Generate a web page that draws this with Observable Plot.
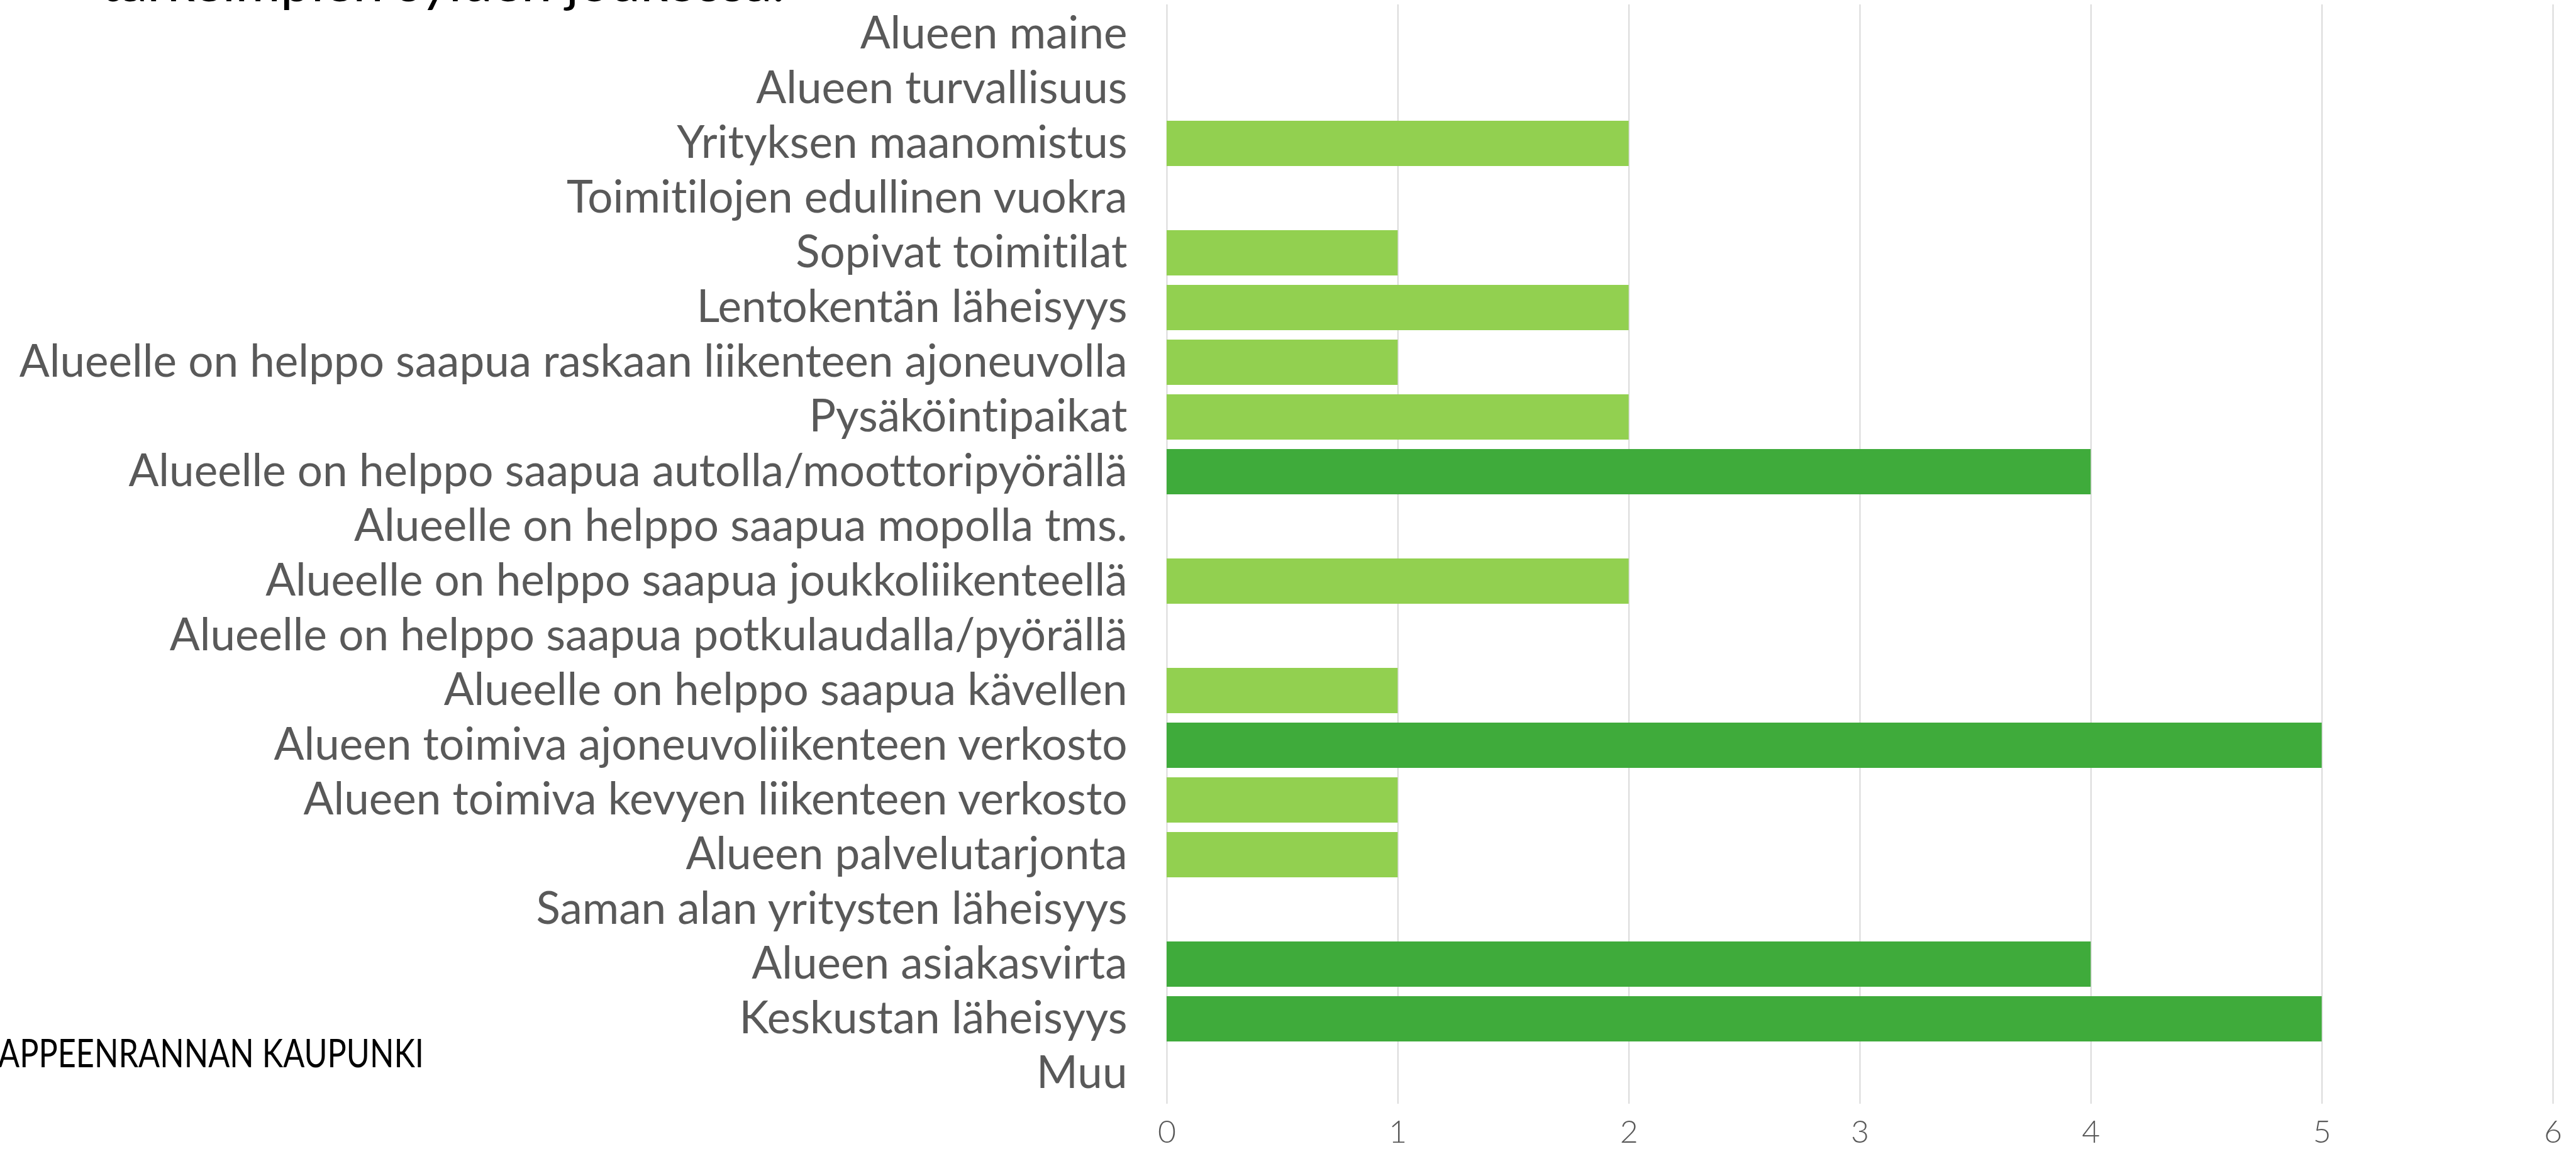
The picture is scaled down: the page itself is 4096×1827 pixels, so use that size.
<!DOCTYPE html>
<html>
<head>
<meta charset="utf-8">
<script src="https://cdn.jsdelivr.net/npm/d3@7"></script>
<script src="https://cdn.jsdelivr.net/npm/@observablehq/plot@0.6"></script>
<style>
  html, body { margin: 0; padding: 0; background: #ffffff; overflow: hidden; }
  #chart svg { display: block; font-variant-ligatures: none; }
</style>
</head>
<body>
<div id="chart"></div>
<script>
const categories = [
  "Alueen maine",
  "Alueen turvallisuus",
  "Yrityksen maanomistus",
  "Toimitilojen edullinen vuokra",
  "Sopivat toimitilat",
  "Lentokentän läheisyys",
  "Alueelle on helppo saapua raskaan liikenteen ajoneuvolla",
  "Pysäköintipaikat",
  "Alueelle on helppo saapua autolla/moottoripyörällä",
  "Alueelle on helppo saapua mopolla tms.",
  "Alueelle on helppo saapua joukkoliikenteellä",
  "Alueelle on helppo saapua potkulaudalla/pyörällä",
  "Alueelle on helppo saapua kävellen",
  "Alueen toimiva ajoneuvoliikenteen verkosto",
  "Alueen toimiva kevyen liikenteen verkosto",
  "Alueen palvelutarjonta",
  "Saman alan yritysten läheisyys",
  "Alueen asiakasvirta",
  "Keskustan läheisyys",
  "Muu"
];
const values = [0, 0, 2, 0, 1, 2, 1, 2, 4, 0, 2, 0, 1, 5, 1, 1, 0, 4, 5, 0];
const xTicks = [0, 1, 2, 3, 4, 5, 6];
const titleText = "tärkeimpien syiden joukossa.";
const footerText = "APPEENRANNAN KAUPUNKI";

const data = categories.map((c, i) => ({category: c, value: values[i], group: values[i] >= 4 ? "top" : "other"}));

const W = 4096, H = 1827;

const plot = Plot.plot({
  width: W,
  height: H,
  marginLeft: 1855,
  marginRight: 37,
  marginTop: 7,
  marginBottom: 72,
  style: {fontFamily: "Lato, 'Open Sans', sans-serif", fontWeight: 400, background: "#ffffff", color: "#595959", overflow: "hidden"},
  x: {domain: [0, 6], label: null},
  y: {domain: categories, paddingInner: 0.167, paddingOuter: 0.0835, label: null},
  color: {domain: ["other", "top"], range: ["#92D050", "#3FAB3B"]},
  marks: [
    Plot.gridX(xTicks, {stroke: "#D9D9D9", strokeOpacity: 1, strokeWidth: 2}),
    Plot.barX(data, {x: "value", y: "category", fill: "group"}),
    Plot.axisX({ticks: xTicks, tickSize: 0, tickPadding: 26, fontSize: 50, fontWeight: 300, fill: "#595959", tickFormat: d => String(d)}),
    Plot.axisY({tickSize: 0, tickPadding: 63, fontSize: 71, fill: "#595959"})
  ]
});

document.getElementById("chart").appendChild(plot);

const svg = d3.select(plot);
svg.append("text")
  .attr("x", 160).attr("y", 2)
  .attr("text-anchor", "start")
  .attr("font-family", "Lato, sans-serif")
  .attr("font-size", 80)
  .attr("font-weight", 400)
  .attr("fill", "#000000")
  .attr("textLength", 1088)
  .attr("lengthAdjust", "spacingAndGlyphs")
  .text(titleText);

svg.append("text")
  .attr("x", -3).attr("y", 1697)
  .attr("text-anchor", "start")
  .attr("font-family", "'Liberation Sans Narrow', Lato, sans-serif")
  .attr("font-size", 62)
  .attr("font-weight", 400)
  .attr("fill", "#000000")
  .attr("textLength", 677)
  .attr("lengthAdjust", "spacingAndGlyphs")
  .text(footerText);
</script>
</body>
</html>
